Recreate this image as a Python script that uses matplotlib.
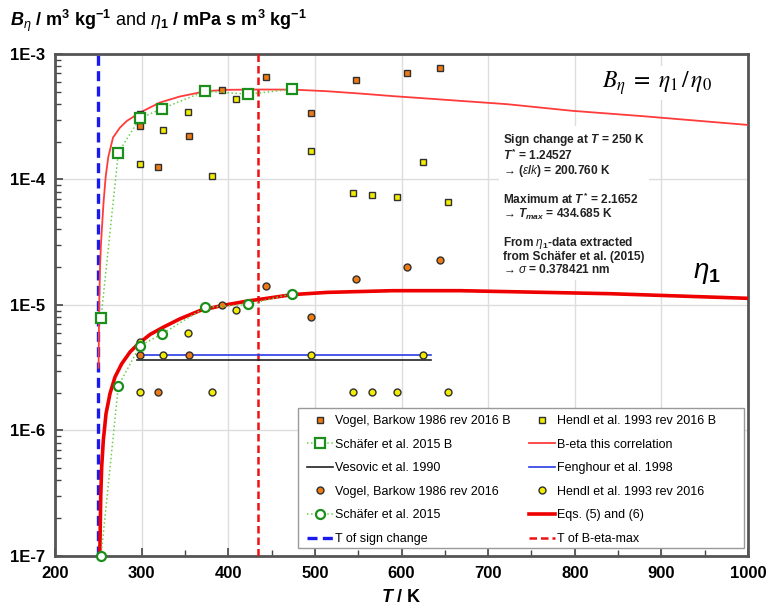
import numpy as np
import matplotlib
matplotlib.use('Agg')
import matplotlib.pyplot as plt
from matplotlib.patches import Rectangle
from matplotlib.ticker import FixedLocator, FuncFormatter, LogLocator, NullFormatter

plt.rcParams['font.family'] = ['Liberation Sans', 'DejaVu Sans']
plt.rcParams['mathtext.fontset'] = 'custom'
plt.rcParams['mathtext.rm'] = 'Liberation Sans'
plt.rcParams['mathtext.it'] = 'Liberation Sans:italic'
plt.rcParams['mathtext.bf'] = 'Liberation Sans:bold'
plt.rcParams['mathtext.bfit'] = 'Liberation Sans:bold:italic'

# --- data ---
T_vogel = [298, 319, 355, 393, 443, 496, 548, 606, 644]
B_vogel = [2.67e-4, 1.26e-4, 2.24e-4, 5.14e-4, 6.53e-4, 3.37e-4, 6.18e-4, 7.06e-4, 7.78e-4]
eta1_vogel = [4.02e-6, 2.03e-6, 4.02e-6, 9.97e-6, 1.41e-5, 8.06e-6, 1.62e-5, 2.0e-5, 2.29e-5]

T_hendl = [298, 298, 325, 353, 381, 409, 495, 544, 566, 595, 625, 654]
B_hendl = [3.31e-4, 1.33e-4, 2.47e-4, 3.43e-4, 1.06e-4, 4.41e-4, 1.68e-4, 7.74e-5, 7.46e-5, 7.19e-5, 1.38e-4, 6.65e-5]
eta1_hendl = [5.03e-6, 2.03e-6, 4.02e-6, 6.0e-6, 2.03e-6, 9.04e-6, 4.02e-6, 2.03e-6, 2.03e-6, 2.03e-6, 4.02e-6, 2.03e-6]

T_schafer = [253.15, 273.15, 298.15, 323.15, 373.15, 423.15, 473.15]
B_schafer = [7.9e-6, 1.64e-4, 3.08e-4, 3.66e-4, 5.05e-4, 4.78e-4, 5.23e-4]
eta1_schafer = [1.0e-7, 2.27e-6, 4.73e-6, 5.86e-6, 9.55e-6, 1.01e-5, 1.23e-5]

T_lit = [294.5, 634]
eta1_vesovic = [3.62e-6, 3.62e-6]
eta1_fenghour = [4.02e-6, 4.02e-6]

T_beta = [250.3, 251, 252, 253, 254, 256, 258.5, 261.5, 267, 275, 283, 298, 321, 344, 374,
          398, 435, 475, 514, 552, 591, 629, 668, 722, 798, 875, 1000]
B_beta = [3.16e-6, 1.0e-5, 2.0e-5, 3.0e-5, 3.9e-5, 6.5e-5, 1.05e-4, 1.51e-4, 2.16e-4, 2.59e-4,
          2.93e-4, 3.41e-4, 4.10e-4, 4.58e-4, 5.05e-4, 5.18e-4, 5.21e-4, 5.20e-4, 5.05e-4,
          4.84e-4, 4.61e-4, 4.42e-4, 4.23e-4, 3.98e-4, 3.52e-4, 3.21e-4, 2.72e-4]

T_eta1 = [251, 252, 252.8, 253.9, 255.8, 258.9, 263.5, 269.3, 277, 286.6, 296.2, 309.7, 325,
          344.3, 367.4, 393, 424, 437, 474, 514, 590, 668, 841, 1000]
eta1_curve = [5.0e-8, 1.34e-7, 2.96e-7, 5.13e-7, 8.36e-7, 1.36e-6, 1.97e-6, 2.67e-6, 3.40e-6,
              4.22e-6, 4.91e-6, 5.82e-6, 6.65e-6, 7.76e-6, 9.03e-6, 9.91e-6, 1.08e-5, 1.11e-5,
              1.21e-5, 1.26e-5, 1.30e-5, 1.30e-5, 1.23e-5, 1.13e-5]

T_sign = 250.0
T_max = 434.685

orange = '#f07a12'
yellow = '#f2ec00'
green = '#1b8f1b'
lgreen = '#6ccf4a'

fig = plt.figure(figsize=(7.68, 6.12), dpi=100)
ax = fig.add_axes([0.0716, 0.0915, 0.9024, 0.8203])
ax.set_yscale('log')

sq = dict(ls='none', marker='s', ms=5, mec='#303030', mew=1.0)
ci = dict(ls='none', marker='o', ms=5, mec='#303030', mew=1.0)

h_vogB, = ax.plot(T_vogel, B_vogel, mfc=orange, label='Vogel, Barkow 1986 rev 2016 B', zorder=5, **sq)
h_henB, = ax.plot(T_hendl, B_hendl, mfc=yellow, label='Hendl et al. 1993 rev 2016 B', zorder=5, **sq)
h_schB, = ax.plot(T_schafer, B_schafer, ls=':', color=lgreen, lw=1.1, marker='s', ms=6.5,
                  mfc='white', mec=green, mew=1.6, label='Schäfer et al. 2015 B', zorder=6)
h_beta, = ax.plot(T_beta, B_beta, color='#ff3b3b', lw=1.3, label='B-eta this correlation', zorder=4)
h_ves, = ax.plot(T_lit, eta1_vesovic, color='#222222', lw=1.2, label='Vesovic et al. 1990', zorder=4)
h_fen, = ax.plot(T_lit, eta1_fenghour, color='#2a3be8', lw=1.2, label='Fenghour et al. 1998', zorder=4)
h_vog, = ax.plot(T_vogel, eta1_vogel, mfc=orange, label='Vogel, Barkow 1986 rev 2016', zorder=5, **ci)
h_hen, = ax.plot(T_hendl, eta1_hendl, mfc=yellow, label='Hendl et al. 1993 rev 2016', zorder=5, **ci)
h_sch, = ax.plot(T_schafer, eta1_schafer, ls=':', color=lgreen, lw=1.1, marker='o', ms=6.5,
                 mfc='white', mec=green, mew=1.6, label='Schäfer et al. 2015', zorder=6, clip_on=False)
h_eq, = ax.plot(T_eta1, eta1_curve, color='#ee0000', lw=2.6, label='Eqs. (5) and (6)', zorder=4)
h_ts = ax.axvline(T_sign, color='#1a1aee', lw=2.4, ls=(0, (3, 1.6)), label='T of sign change', zorder=3)
h_tm = ax.axvline(T_max, color='#ee1111', lw=1.8, ls=(0, (3, 1.6)), label='T of B-eta-max', zorder=3)

ax.set_xlim(200, 1000)
ax.set_ylim(1e-7, 1e-3)

ax.xaxis.set_major_locator(FixedLocator(np.arange(200, 1001, 100)))
ax.xaxis.set_minor_locator(FixedLocator(np.arange(250, 1000, 100)))
ax.yaxis.set_major_locator(LogLocator(base=10, numticks=10))
ax.yaxis.set_minor_locator(LogLocator(base=10, subs=np.arange(2, 10), numticks=20))
ax.yaxis.set_minor_formatter(NullFormatter())
ax.yaxis.set_major_formatter(FuncFormatter(lambda v, p: f'1E{int(round(np.log10(v)))}'))

ax.tick_params(which='both', direction='in', top=False, right=False, color='#444444')
ax.tick_params(which='major', length=6, width=1.2, labelsize=12, pad=7)
ax.tick_params(which='minor', length=4, width=1.0)
for lab in ax.get_xticklabels() + ax.get_yticklabels():
    lab.set_fontweight('bold')

for s in ax.spines.values():
    s.set_color('#555555')
    s.set_linewidth(2.0)

ax.grid(True, which='major', color='#dddddd', lw=1.0, zorder=0)
ax.set_axisbelow(True)

# legend frame drawn separately (wider than its content, as in the original)
ax.add_patch(Rectangle((0.3506, 0.016), 0.6436, 0.279, transform=ax.transAxes,
                       facecolor='white', edgecolor='#999999', lw=1.0, zorder=9))
handles = [h_vogB, h_schB, h_ves, h_vog, h_sch, h_ts,
           h_henB, h_beta, h_fen, h_hen, h_eq, h_tm]
leg = ax.legend(handles=handles, ncol=2, loc='upper left', bbox_to_anchor=(0.3636, 0.281),
                fontsize=9.0, frameon=False, borderpad=0, labelspacing=0.93, handlelength=2.1,
                handletextpad=0.15, columnspacing=1.45, borderaxespad=0)
leg.set_zorder(10)

# annotations
ax.text(0.789, 0.942, r'$B_\eta\;=\;\eta_1\,/\,\eta_0$', transform=ax.transAxes, fontsize=17,
        math_fontfamily='stix', ha='left', va='center',
        bbox=dict(facecolor='white', edgecolor='none', pad=2))

info = ('Sign change at $\\mathbfit{T}$ = 250 K\n'
        '$\\mathbfit{T}^{\\,\\mathbf{*}}$ = 1.24527\n'
        '→ ($\\mathit{\\varepsilon}$/$\\mathit{k}$) = 200.760 K\n\n'
        'Maximum at $\\mathbfit{T}^{\\,\\mathbf{*}}$ = 2.1652\n'
        '→ $\\mathbfit{T}_{\\mathbfit{max}}$ = 434.685 K\n\n'
        'From $\\mathit{\\eta}_\\mathbf{1}$-data extracted\n'
        'from Schäfer et al. (2015)\n'
        '→ $\\mathit{\\sigma}$ = 0.378421 nm')
ax.text(0.646, 0.845, info, transform=ax.transAxes, fontsize=8.6, fontweight='bold',
        ha='left', va='top', linespacing=1.02, color='#222222',
        bbox=dict(facecolor='white', edgecolor='none', pad=3))

ax.text(0.92, 0.564, r'$\mathit{\eta}_\mathbf{1}$', transform=ax.transAxes, fontsize=20,
        ha='left', va='center')

# y-axis unit title
fig.text(0.013, 0.958,
         r'$\mathbfit{B}_{\mathit{\eta}}\mathbf{\ /\ m^3\ kg^{-1}}\mathrm{\ and\ }'
         r'\mathit{\eta}_\mathbf{1}\mathbf{\ /\ mPa\ s\ m^3\ kg^{-1}}$',
         fontsize=13, ha='left', va='baseline')

ax.set_xlabel(r'$\mathbfit{T}$ / K', fontsize=13, fontweight='bold', labelpad=6)

fig.savefig('out.png', dpi=100)
